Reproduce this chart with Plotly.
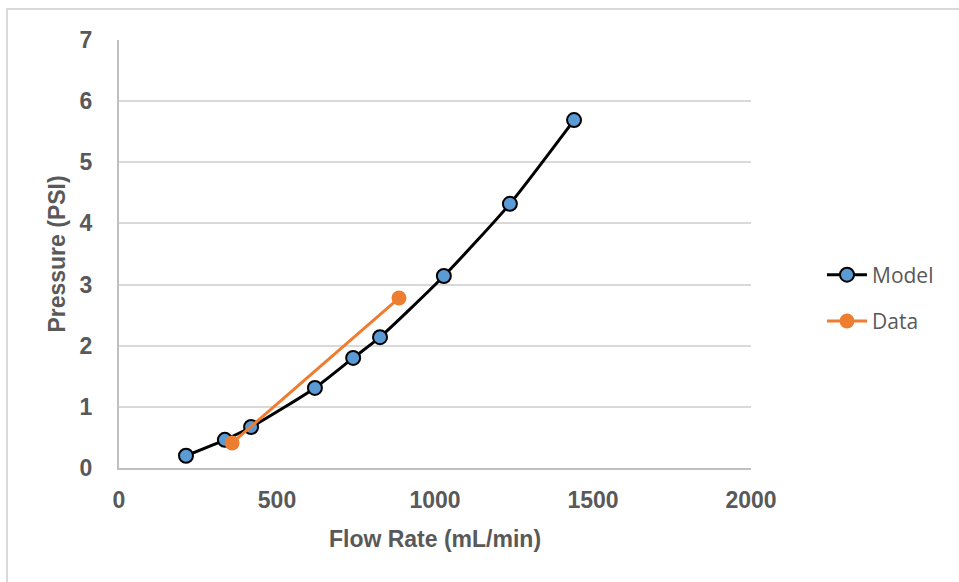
import plotly.graph_objects as go

model_flow = [212, 335, 418, 620, 741, 826, 1028, 1237, 1440]
model_pressure = [0.20, 0.46, 0.67, 1.31, 1.80, 2.14, 3.14, 4.32, 5.69]
data_flow = [358, 886]
data_pressure = [0.41, 2.78]

x_ticks = [0, 500, 1000, 1500, 2000]
y_ticks = [0, 1, 2, 3, 4, 5, 6, 7]

W, H = 959, 582
L, R, T, B = 119, 208, 40, 114
pw, ph = W - L - R, H - T - B

fig = go.Figure()
fig.add_trace(go.Scatter(
    x=model_flow, y=model_pressure, name="Model", mode="lines+markers",
    line=dict(color="black", width=3, shape="spline", smoothing=0.6),
    marker=dict(size=14, color="#5b9bd5", line=dict(color="black", width=2)),
    legendgroup="m",
))
fig.add_trace(go.Scatter(
    x=data_flow, y=data_pressure, name="Data", mode="lines+markers",
    line=dict(color="#ed7d31", width=3),
    marker=dict(size=15, color="#ed7d31"),
    legendgroup="d",
))

tick_font = dict(family="Liberation Sans, Arial", size=23, color="#595959")
title_font = dict(family="Liberation Sans, Arial", size=23, color="#595959")

fig.update_layout(
    width=W, height=H,
    margin=dict(l=L, r=R, t=T, b=B),
    paper_bgcolor="white", plot_bgcolor="white",
    showlegend=True,
    legend=dict(
        x=(822 - L) / pw, y=(468 - 298) / ph, xanchor="left", yanchor="middle",
        font=dict(family="Open Sans, Noto Sans", size=21, color="#595959"),
        traceorder="grouped", tracegroupgap=16, itemwidth=40,
        bgcolor="rgba(0,0,0,0)",
    ),
    xaxis=dict(
        range=[0, 2000], tickvals=x_ticks, ticktext=[f"<b>{v}</b>" for v in x_ticks],
        showgrid=False, showline=True, linecolor="#bfbfbf", linewidth=2,
        tickfont=tick_font, ticks="", ticklabelstandoff=10,
        title=dict(text="<b>Flow Rate (mL/min)</b>", font=title_font, standoff=19),
        zeroline=False,
    ),
    yaxis=dict(
        range=[0, 7], tickvals=y_ticks, ticktext=[f"<b>{v}</b>" for v in y_ticks],
        showgrid=True, gridcolor="#d9d9d9", gridwidth=2,
        showline=True, linecolor="#bfbfbf", linewidth=2,
        tickfont=tick_font, ticks="", ticklabelstandoff=20,
        title=dict(text="<b>Pressure (PSI)</b>", font=title_font, standoff=8),
        zeroline=False,
    ),
    shapes=[dict(
        type="rect", xref="paper", yref="paper",
        x0=(7 - L) / pw, x1=(990 - L) / pw,
        y0=-(620 - (H - B)) / ph,
        y1=(H - B - 9) / ph,
        line=dict(color="#d9d9d9", width=2), fillcolor="rgba(0,0,0,0)",
        layer="below",
    )],
)

fig.write_html("out.html")
